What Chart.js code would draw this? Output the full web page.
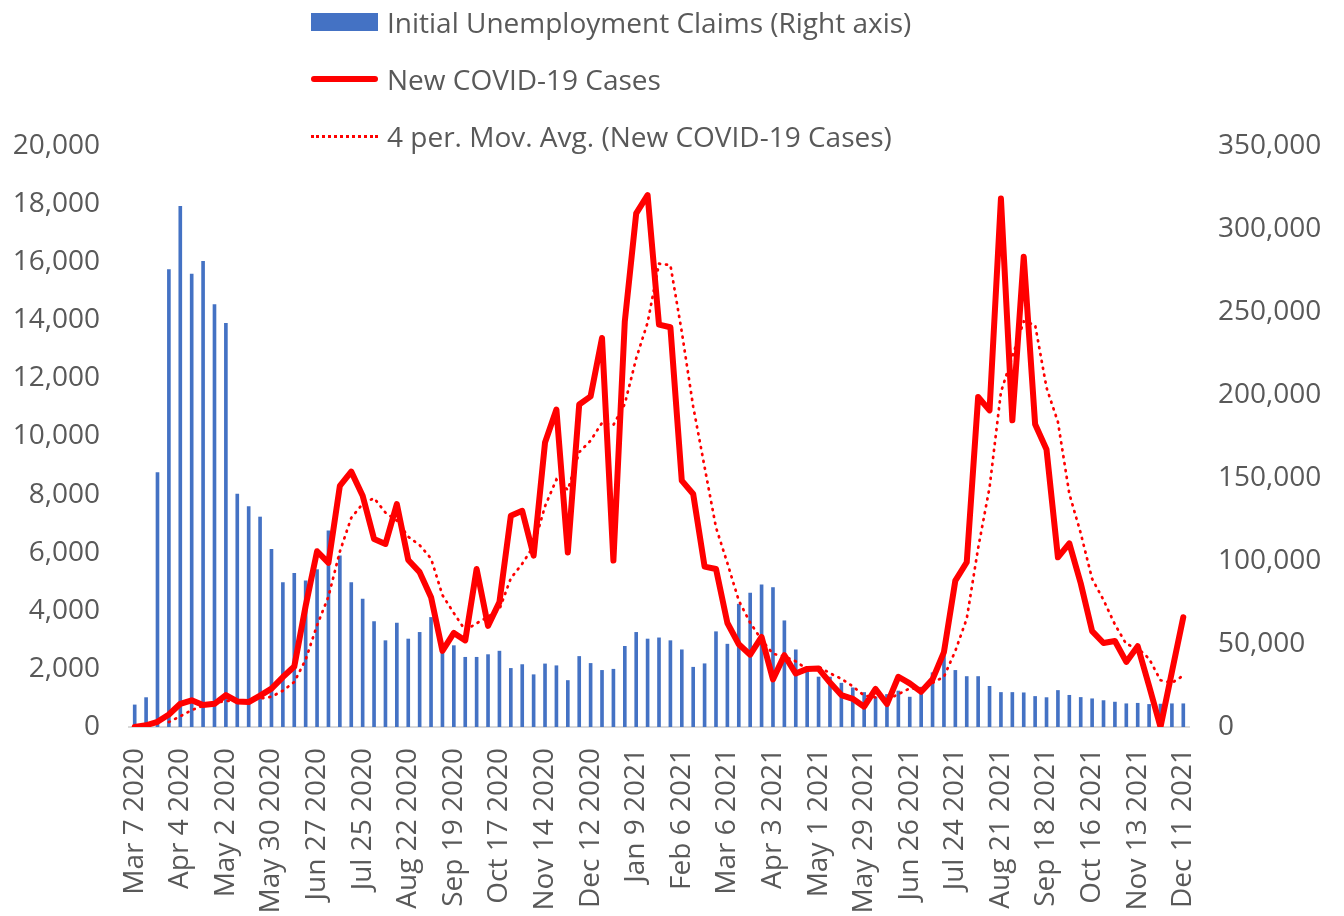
<!DOCTYPE html>
<html>
<head>
<meta charset="utf-8">
<script src="https://cdn.jsdelivr.net/npm/chart.js@4.4.1/dist/chart.umd.min.js"></script>
<style>
  html, body { margin: 0; padding: 0; background: #ffffff; }
  #wrap { position: relative; width: 1344px; height: 916px; overflow: hidden; }
  #chart { position: absolute; left: 0; top: 0; }
  .leg { position: absolute; left: 311px; height: 30px; display: flex; align-items: center;
         font-family: "Open Sans", "Noto Sans", sans-serif; font-size: 28px; color: #595959; white-space: nowrap; }
  .sym { width: 67px; margin-right: 9px; flex: none; }
  .sym-bar { height: 18px; background: #4472C4; }
  .sym-line { height: 6px; background: #FF0000; border-radius: 3px; }
  .sym-dot { height: 0; border-top: 3px dotted #FF0000; }
</style>
</head>
<body>
<div id="wrap">
  <canvas id="chart" width="1344" height="916"></canvas>
  <div class="leg" style="top:7px"><div class="sym sym-bar"></div><span>Initial Unemployment Claims (Right axis)</span></div>
  <div class="leg" style="top:64px"><div class="sym sym-line"></div><span>New COVID-19 Cases</span></div>
  <div class="leg" style="top:121px"><div class="sym sym-dot"></div><span>4 per. Mov. Avg. (New COVID-19 Cases)</span></div>
</div>
<script>
// Weekly categories
const categories = [
  "Mar 7 2020","Mar 14 2020","Mar 21 2020","Mar 28 2020","Apr 4 2020","Apr 11 2020","Apr 18 2020","Apr 25 2020",
  "May 2 2020","May 9 2020","May 16 2020","May 23 2020","May 30 2020","Jun 6 2020","Jun 13 2020","Jun 20 2020",
  "Jun 27 2020","Jul 4 2020","Jul 11 2020","Jul 18 2020","Jul 25 2020","Aug 1 2020","Aug 8 2020","Aug 15 2020",
  "Aug 22 2020","Aug 29 2020","Sep 5 2020","Sep 12 2020","Sep 19 2020","Sep 26 2020","Oct 3 2020","Oct 10 2020",
  "Oct 17 2020","Oct 24 2020","Oct 31 2020","Nov 7 2020","Nov 14 2020","Nov 21 2020","Nov 28 2020","Dec 5 2020",
  "Dec 12 2020","Dec 19 2020","Dec 26 2020","Jan 2 2021","Jan 9 2021","Jan 16 2021","Jan 23 2021","Jan 30 2021",
  "Feb 6 2021","Feb 13 2021","Feb 20 2021","Feb 27 2021","Mar 6 2021","Mar 13 2021","Mar 20 2021","Mar 27 2021",
  "Apr 3 2021","Apr 10 2021","Apr 17 2021","Apr 24 2021","May 1 2021","May 8 2021","May 15 2021","May 22 2021",
  "May 29 2021","Jun 5 2021","Jun 12 2021","Jun 19 2021","Jun 26 2021","Jul 3 2021","Jul 10 2021","Jul 17 2021",
  "Jul 24 2021","Jul 31 2021","Aug 7 2021","Aug 14 2021","Aug 21 2021","Aug 28 2021","Sep 4 2021","Sep 11 2021",
  "Sep 18 2021","Sep 25 2021","Oct 2 2021","Oct 9 2021","Oct 16 2021","Oct 23 2021","Oct 30 2021","Nov 6 2021",
  "Nov 13 2021","Nov 20 2021","Nov 27 2021","Dec 4 2021","Dec 11 2021"
];

// Tick labels shown on the category axis
const tickLabels = [
  "Mar 7 2020","Apr 4 2020","May 2 2020","May 30 2020","Jun 27 2020","Jul 25 2020","Aug 22 2020","Sep 19 2020",
  "Oct 17 2020","Nov 14 2020","Dec 12 2020","Jan 9 2021","Feb 6 2021","Mar 6 2021","Apr 3 2021","May 1 2021",
  "May 29 2021","Jun 26 2021","Jul 24 2021","Aug 21 2021","Sep 18 2021","Oct 16 2021","Nov 13 2021","Dec 11 2021"
];

// Initial unemployment claims (right axis)
const claims = [
  13500, 17900, 153500, 275800, 313800, 273000, 280700, 254600,
  243300, 140500, 133000, 126700, 107300, 87200, 92800, 88200,
  95000, 118300, 103300, 87200, 77200, 63700, 52200, 62800,
  53200, 57200, 66200, 48100, 49200, 42200, 42200, 43800,
  45900, 35500, 37800, 31700, 38200, 37100, 28200, 42700,
  38500, 34300, 35000, 48800, 57200, 53200, 53900, 52200,
  46700, 36200, 38300, 57600, 50100, 74200, 80900, 85900,
  84200, 64200, 46700, 35000, 30300, 30300, 26600, 23800,
  21000, 18200, 19800, 21900, 18200, 24200, 32900, 44300,
  34300, 30600, 30600, 24700, 21000, 21000, 20800, 18600,
  17900, 22200, 19300, 18000, 17200, 16100, 15200, 14200,
  14500, 13800, 14000, 14200, 14200
];

// New COVID-19 cases (left axis)
const newCases = [
  0, 60, 180, 430, 800, 920, 760, 800,
  1100, 880, 860, 1080, 1320, 1720, 2080, 4170,
  6050, 5650, 8300, 8790, 7960, 6470, 6300, 7670,
  5750, 5330, 4470, 2620, 3240, 2980, 5440, 3480,
  4300, 7270, 7440, 5900, 9790, 10930, 6010, 11100,
  11380, 13390, 5730, 13960, 17680, 18310, 13850, 13760,
  8480, 8020, 5520, 5440, 3580, 2850, 2490, 3100,
  1640, 2470, 1840, 2000, 2010, 1530, 1100, 970,
  700, 1310, 790, 1730, 1500, 1210, 1640, 2580,
  5040, 5670, 11360, 10900, 18190, 10560, 16190, 10420,
  9550, 5840, 6320, 4950, 3300, 2890, 2960, 2240,
  2780, 1410, 0, 1900, 3780
];

// 4-period moving average trendline
const movAvg = [
  null, null, null, 170, 370, 580, 730, 820,
  900, 890, 910, 980, 1040, 1250, 1550, 2320,
  3500, 4490, 6040, 7200, 7680, 7880, 7380, 7100,
  6550, 6260, 5800, 4540, 3920, 3330, 3570, 3790,
  4050, 5120, 5620, 6230, 7600, 8520, 8160, 9460,
  9860, 10470, 10400, 11120, 12690, 13920, 15950, 15900,
  13600, 11030, 8950, 6870, 5640, 4350, 3590, 3000,
  2520, 2430, 2260, 1990, 2080, 1850, 1660, 1400,
  1080, 1020, 940, 1130, 1330, 1310, 1520, 1730,
  2620, 3730, 6160, 8240, 11530, 12750, 13960, 13840,
  11680, 10500, 8030, 6670, 5100, 4370, 3530, 2850,
  2720, 2350, 1610, 1520, 1770
];

const FONT = { family: '"Open Sans", "Noto Sans", sans-serif', size: 28 };
const TXT = '#595959';
const fmt = v => Number(v).toLocaleString('en-US');

new Chart(document.getElementById('chart'), {
  type: 'bar',
  data: {
    labels: categories,
    datasets: [
      {
        type: 'line', label: 'New COVID-19 Cases', data: newCases, yAxisID: 'y',
        borderColor: '#FF0000', backgroundColor: '#FF0000', borderWidth: 6,
        pointRadius: 0, tension: 0, borderJoinStyle: 'round', borderCapStyle: 'round', order: 1
      },
      {
        type: 'line', label: '4 per. Mov. Avg. (New COVID-19 Cases)', data: movAvg, yAxisID: 'y',
        borderColor: '#FF0000', borderWidth: 2.75, borderDash: [1, 6], borderCapStyle: 'round',
        pointRadius: 0, tension: 0, spanGaps: false, order: 2
      },
      {
        type: 'bar', label: 'Initial Unemployment Claims (Right axis)', data: claims, yAxisID: 'y1',
        backgroundColor: '#4472C4', barPercentage: 0.32, categoryPercentage: 1, order: 3
      }
    ]
  },
  options: {
    responsive: false,
    animation: false,
    devicePixelRatio: 1,
    layout: { padding: { left: 0, right: 0, top: 146, bottom: 0 } },
    plugins: { legend: { display: false }, tooltip: { enabled: false } },
    scales: {
      x: {
        offset: true,
        grid: { display: false },
        border: { display: true, color: '#d9d9d9', width: 2 },
        afterFit: s => { s.height = 189; },
        ticks: {
          autoSkip: false, minRotation: 90, maxRotation: 90, padding: 13,
          font: FONT, color: TXT,
          callback: function (v, i) {
            const l = categories[i];
            return tickLabels.includes(l) ? l : '';
          }
        }
      },
      y: {
        position: 'left', min: 0, max: 20000,
        grid: { display: false }, border: { display: false },
        afterFit: s => { s.width = 129; },
        ticks: { stepSize: 2000, font: FONT, color: TXT, padding: 21, callback: fmt }
      },
      y1: {
        position: 'right', min: 0, max: 350000,
        grid: { display: false }, border: { display: false },
        afterFit: s => { s.width = 155; },
        ticks: { stepSize: 50000, font: FONT, color: TXT, padding: 21, callback: fmt }
      }
    }
  }
});
</script>
</body>
</html>
